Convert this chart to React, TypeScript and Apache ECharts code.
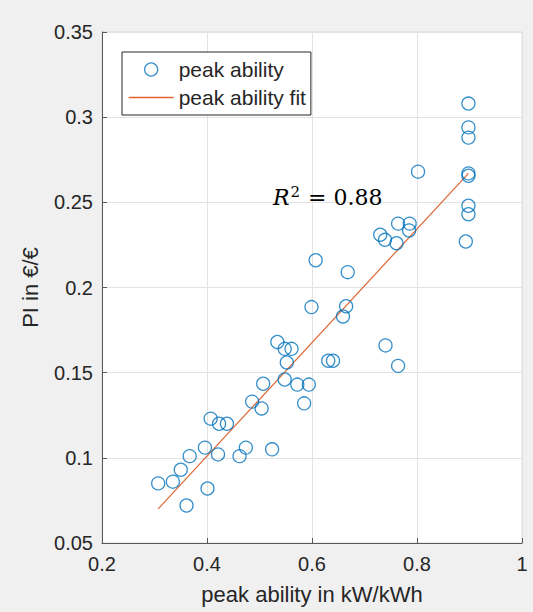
import React, { useEffect, useRef } from "react";
import * as echarts from "echarts";

// peak ability (kW/kWh)
const peakAbility = [
  0.898, 0.898, 0.898, 0.802, 0.898, 0.898, 0.898, 0.898, 0.893, 0.764,
  0.786, 0.785, 0.730, 0.739, 0.761, 0.607, 0.668, 0.599, 0.665, 0.659,
  0.534, 0.548, 0.561, 0.740, 0.552, 0.631, 0.640, 0.764, 0.548, 0.507,
  0.572, 0.594, 0.585, 0.486, 0.504, 0.407, 0.423, 0.438, 0.396, 0.474,
  0.421, 0.462, 0.367, 0.524, 0.350, 0.307, 0.335, 0.401, 0.361,
];
// PI (€/€)
const piValues = [
  0.308, 0.294, 0.288, 0.268, 0.267, 0.2656, 0.248, 0.243, 0.227, 0.2375,
  0.2375, 0.2335, 0.231, 0.228, 0.226, 0.216, 0.209, 0.1885, 0.189, 0.183,
  0.168, 0.164, 0.164, 0.166, 0.156, 0.157, 0.157, 0.154, 0.146, 0.1435,
  0.143, 0.143, 0.132, 0.133, 0.129, 0.123, 0.120, 0.120, 0.106, 0.106,
  0.102, 0.101, 0.101, 0.105, 0.093, 0.085, 0.086, 0.082, 0.072,
];
// linear fit end points
const fitX = [0.307, 0.898];
const fitY = [0.070, 0.267];

const seriesNames = ["peak ability", "peak ability fit"];
const xAxisName = "peak ability in kW/kWh";
const yAxisName = "PI in €/€";

const TXT = "#262626";
const FONT = "Liberation Sans, Arial, sans-serif";
const FIT_COLOR = "#DD6633";

export default function App() {
  const ref = useRef<HTMLDivElement>(null);
  useEffect(() => {
    if (!ref.current) return;
    const chart = echarts.init(ref.current, undefined, { renderer: "svg" });
    const scatterData = peakAbility.map((x, i) => [x, piValues[i]]);
    const fitData = fitX.map((x, i) => [x, fitY[i]]);
    chart.setOption({
      animation: false,
      backgroundColor: "#f0f0f0",
      textStyle: { fontFamily: FONT },
      grid: {
        left: 102,
        top: 32,
        right: 11,
        bottom: 69,
        show: true,
        backgroundColor: "#ffffff",
        borderColor: "#d9d9d9",
        borderWidth: 1,
      },
      xAxis: {
        type: "value",
        min: 0.2,
        max: 1,
        interval: 0.2,
        name: xAxisName,
        nameLocation: "middle",
        nameGap: 40,
        nameTextStyle: { fontSize: 22, color: TXT, fontFamily: FONT },
        axisLine: { show: true, lineStyle: { color: "#5a5a5a", width: 1 } },
        axisTick: { show: true, inside: true, length: 5, lineStyle: { color: "#5a5a5a" } },
        axisLabel: { fontSize: 20, color: TXT, margin: 11, fontFamily: FONT },
        splitLine: { show: true, lineStyle: { color: "#e2e2e2", width: 1 } },
      },
      yAxis: {
        type: "value",
        min: 0.05,
        max: 0.35,
        interval: 0.05,
        name: yAxisName,
        nameLocation: "middle",
        nameGap: 61,
        nameTextStyle: { fontSize: 22, color: TXT, fontFamily: FONT },
        axisLine: { show: true, lineStyle: { color: "#5a5a5a", width: 1 } },
        axisTick: { show: true, inside: true, length: 5, lineStyle: { color: "#5a5a5a" } },
        axisLabel: { fontSize: 20, color: TXT, margin: 9, fontFamily: FONT },
        splitLine: { show: true, lineStyle: { color: "#e2e2e2", width: 1 } },
      },
      legend: {
        left: 122,
        top: 52,
        orient: "vertical",
        backgroundColor: "#ffffff",
        borderColor: "#262626",
        borderWidth: 1,
        borderRadius: 0,
        padding: [7, 5, 7, 6],
        itemWidth: 45,
        itemHeight: 13,
        itemGap: 7,
        textStyle: { fontSize: 21, color: TXT, fontFamily: FONT, lineHeight: 20 },
        data: [
          {
            name: seriesNames[0],
            icon: "circle",
            itemStyle: { color: "transparent", borderColor: "#0072BD", borderWidth: 1.3 },
          },
          {
            name: seriesNames[1],
            itemStyle: { opacity: 0 },
            lineStyle: { color: FIT_COLOR, width: 1.3, opacity: 1 },
          },
        ],
      },
      graphic: [
        {
          type: "text",
          left: 273,
          top: 184,
          z: 100,
          style: {
            text: "{r|R}{s|2}{t| = 0.88}",
            rich: {
              r: {
                fontFamily: "DejaVu Serif",
                fontStyle: "italic",
                fontSize: 22,
                fill: "#000",
                lineHeight: 26,
              },
              s: {
                fontFamily: "DejaVu Serif",
                fontSize: 15,
                fill: "#000",
                verticalAlign: "top",
                lineHeight: 26,
                padding: [0, 1, 0, 1],
              },
              t: {
                fontFamily: "DejaVu Serif",
                fontSize: 22,
                fill: "#000",
                lineHeight: 26,
              },
            },
          },
        },
      ],
      series: [
        {
          name: seriesNames[0],
          type: "scatter",
          symbol: "circle",
          symbolSize: 13,
          data: scatterData,
          itemStyle: { color: "transparent", borderColor: "#0072BD", borderWidth: 1.3 },
          emphasis: { disabled: true },
          z: 3,
        },
        {
          name: seriesNames[1],
          type: "line",
          data: fitData,
          symbol: "none",
          lineStyle: { color: FIT_COLOR, width: 1.2 },
          itemStyle: { color: FIT_COLOR },
          z: 2,
        },
      ],
    });
    return () => chart.dispose();
  }, []);
  return (
    <div
      ref={ref}
      style={{ position: "fixed", left: 0, top: 0, width: 533, height: 612 }}
    />
  );
}
